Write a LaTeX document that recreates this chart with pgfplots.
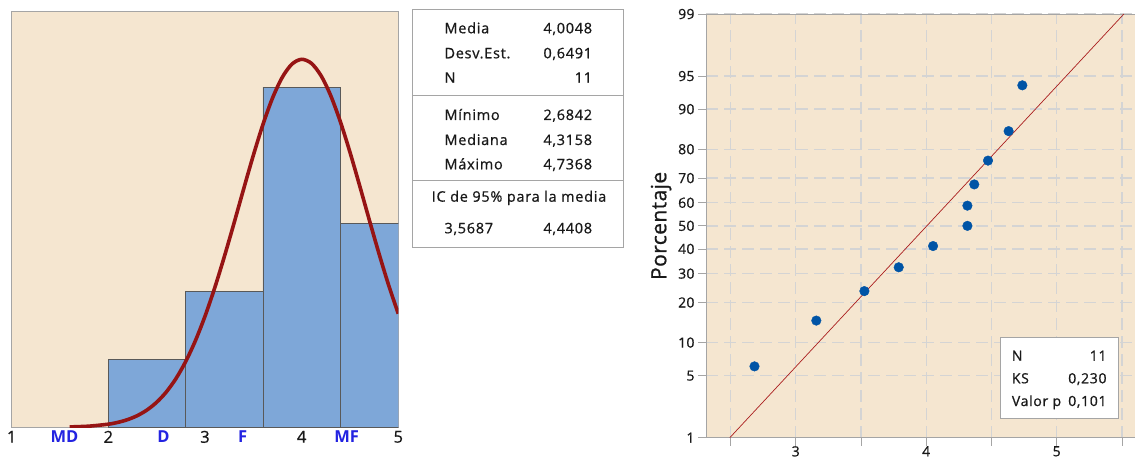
\documentclass[border=0pt]{standalone}
\usepackage{fontspec}
\setmainfont{Open Sans}
\newfontfamily\tabfont{Open Sans}[FakeBold=0.8, LetterSpace=5]
\newfontfamily\tickfont{Open Sans}[FakeBold=0.8, LetterSpace=2]
\usepackage{pgfplots}
\pgfplotsset{compat=1.18}
\definecolor{beige}{RGB}{245,230,208}
\definecolor{barblue}{RGB}{126,167,216}
\definecolor{curvered}{RGB}{150,20,20}
\definecolor{linered}{RGB}{170,30,30}
\definecolor{ptblue}{RGB}{0,84,166}
\definecolor{lblblue}{RGB}{35,35,225}
\definecolor{gridgray}{RGB}{212,212,212}
\definecolor{bordergray}{RGB}{165,165,165}
\definecolor{txt}{RGB}{25,25,25}
\begin{document}
\begin{tikzpicture}[x=1pt,y=1pt]
\useasboundingbox (0,0) rectangle (1135,456);
% ---------------- Histogram ----------------
\begin{axis}[
  at={(11.7pt,28.7pt)}, anchor=south west, scale only axis,
  width=386.6pt, height=415.6pt,
  xmin=1, xmax=5, ymin=0, ymax=6.11,
  axis background/.style={fill=beige},
  axis line style={draw=bordergray, line width=0.8pt},
  xtick={1,2,3,4,5}, ytick=\empty,
  major tick length=0pt,
  extra x ticks={1.546,2.57,3.39,4.465},
  extra x tick labels={MD,D,F,MF},
  extra x tick style={tick label style={text=lblblue, font=\fontsize{16.5}{18}\selectfont\bfseries}},
  tick label style={font=\tickfont\fontsize{16.5}{18}\selectfont, text=txt},
  /pgf/number format/assume math mode=true,
  clip=true,
]
\addplot[ybar interval, fill=barblue, draw=black!65, line width=0.8pt]
  coordinates {(2.0,1) (2.8,2) (3.6,5) (4.4,3) (5.2,3)};
\addplot[curvered, line width=3.6pt, smooth] coordinates {
(1.6,0.0057)(1.8,0.0169)(2.0,0.0459)(2.1,0.0730)(2.2,0.1133)(2.3,0.1719)
(2.4,0.2545)(2.5,0.3683)(2.6,0.5201)(2.7,0.7173)(2.8,0.9663)(2.9,1.271)
(3.0,1.633)(3.1,2.048)(3.2,2.509)(3.3,3.000)(3.4,3.505)(3.5,3.998)
(3.6,4.454)(3.7,4.845)(3.8,5.147)(3.9,5.340)(4.0,5.410)(4.1,5.352)
(4.2,5.171)(4.3,4.879)(4.4,4.495)(4.5,4.044)(4.6,3.553)(4.7,3.049)
(4.8,2.555)(4.9,2.090)(5.0,1.670)};
\end{axis}
% ---------------- Table ----------------
\draw[bordergray, line width=0.8pt] (412.7,446.7) rectangle (623.3,208.3);
\draw[bordergray, line width=0.8pt] (412.7,360.3) -- (623.3,360.3);
\draw[bordergray, line width=0.8pt] (412.7,275.7) -- (623.3,275.7);
\begin{scope}[every node/.style={inner sep=0pt, text=txt, font=\tabfont\fontsize{14.5}{16}\selectfont}]
\node[anchor=base west] at (444.3,422.7) {Media};
\node[anchor=base west] at (444.3,397.7) {Desv.Est.};
\node[anchor=base west] at (444.3,373.3) {N};
\node[anchor=base west] at (444.3,336.0) {Mínimo};
\node[anchor=base west] at (444.3,311.0) {Mediana};
\node[anchor=base west] at (444.3,286.7) {Máximo};
\node[anchor=base east] at (592.3,422.7) {4,0048};
\node[anchor=base east] at (592.3,397.7) {0,6491};
\node[anchor=base east] at (592.3,373.3) {11};
\node[anchor=base east] at (592.3,336.0) {2,6842};
\node[anchor=base east] at (592.3,311.0) {4,3158};
\node[anchor=base east] at (592.3,286.7) {4,7368};
\node[anchor=base] at (519,254.3) {IC de 95\% para la media};
\node[anchor=base west] at (444.3,222.7) {3,5687};
\node[anchor=base east] at (592.3,222.7) {4,4408};
\end{scope}
% ---------------- Probability plot ----------------
\begin{axis}[
  at={(706pt,18.3pt)}, anchor=south west, scale only axis,
  width=434.2pt, height=423.7pt,
  xmin=2.3126, xmax=5.64, ymin=-2.3263, ymax=2.3263,
  axis background/.style={fill=beige},
  axis line style={draw=bordergray, line width=0.8pt},
  xtick={2.5,3,3.5,4,4.5,5,5.5},
  xticklabels={{},3,{},4,{},5,{}},
  ytick={-2.3263,-1.6449,-1.2816,-0.8416,-0.5244,-0.2533,0,0.2533,0.5244,0.8416,1.2816,1.6449,2.3263},
  yticklabels={1,5,10,20,30,40,50,60,70,80,90,95,99},
  grid=major,
  major grid style={draw=gridgray, line width=1.3pt, dash pattern=on 12pt off 6pt},
  tick align=outside, major tick length=8pt,
  tick style={draw=bordergray, line width=0.8pt},
  xtick pos=bottom, ytick pos=left,
  tick label style={font=\tickfont\fontsize{14}{16}\selectfont, text=txt},
  xticklabel style={yshift=3pt},
  /pgf/number format/assume math mode=true,
  ylabel={Porcentaje},
  ylabel style={font=\tickfont\fontsize{21}{23}\selectfont, text=txt},
  clip=true,
]
\addplot[linered, line width=0.7pt] coordinates {(2.495,-2.3263) (5.515,2.3263)};
\addplot[only marks, mark=*, mark size=4.8pt, color=ptblue] coordinates {
(2.6842,-1.5431)(3.1579,-1.0402)(3.5263,-0.7165)(3.7895,-0.4550)
(4.0526,-0.2217)(4.3158,0)(4.3158,0.2217)(4.3684,0.4550)
(4.4737,0.7165)(4.6316,1.0402)(4.7368,1.5431)};
\end{axis}
\draw[bordergray, fill=white, line width=0.8pt] (1000.7,118.7) rectangle (1118.3,37.7);
\begin{scope}[every node/.style={inner sep=0pt, text=txt, font=\tabfont\fontsize{14}{16}\selectfont}]
\node[anchor=base west] at (1011.7,95.3) {N};
\node[anchor=base west] at (1011.7,72.7) {KS};
\node[anchor=base west] at (1011.7,50.0) {Valor p};
\node[anchor=base east] at (1106.7,95.3) {11};
\node[anchor=base east] at (1106.7,72.7) {0,230};
\node[anchor=base east] at (1106.7,50.0) {0,101};
\end{scope}
\end{tikzpicture}
\end{document}
